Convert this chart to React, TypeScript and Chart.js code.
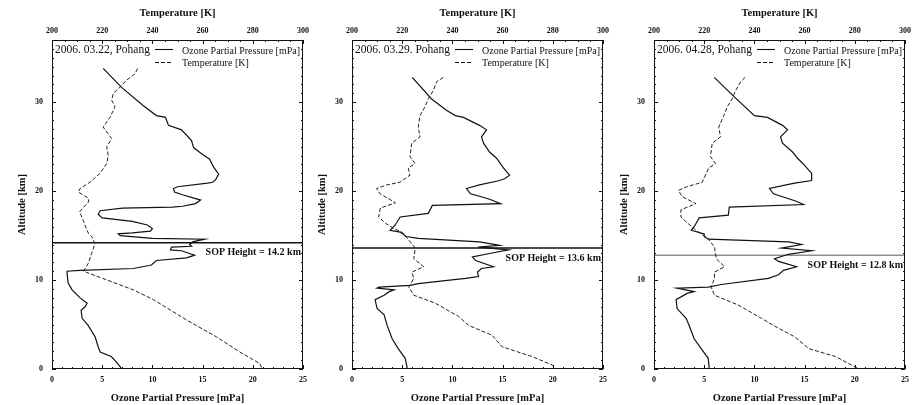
import React, { useEffect, useRef } from 'react';
import { Chart, registerables } from 'chart.js';

Chart.register(...registerables);

const FONT = '"Liberation Serif", "Times New Roman", Times, serif';

// Tick values
const ozoneTickValues = [0, 5, 10, 15, 20, 25];
const tempTickValues = [200, 220, 240, 260, 280, 300];
const altTickValues = [0, 10, 20, 30];

// [altitude km, ozone partial pressure mPa]
const ozone0322: [number, number][] = [
  [33.8, 5.1], [31.7, 6.9], [29.6, 9.1], [28.5, 10.4], [28.3, 11.3], [27.4, 11.6], [26.9, 12.9],
  [25.7, 13.9], [24.9, 14.1], [24.3, 14.8], [23.6, 15.7], [22.7, 16.1], [21.9, 16.6], [21.3, 16.3],
  [21.0, 16.0], [20.9, 15.5], [20.5, 12.5], [20.3, 12.1], [19.9, 12.2], [19.6, 13.0], [19.0, 14.8],
  [18.6, 14.3], [18.3, 13.0], [18.2, 12.0], [18.1, 7.0], [17.8, 4.8], [17.4, 4.6], [17.0, 5.0],
  [16.6, 8.0], [16.2, 9.5], [15.8, 10.0], [15.5, 9.8], [15.3, 8.0], [15.2, 6.6], [15.0, 6.8],
  [14.7, 10.0], [14.6, 15.2], [14.3, 14.0], [14.0, 13.7], [13.8, 13.9], [13.7, 11.9], [13.4, 11.8],
  [13.3, 12.9], [12.8, 14.2], [12.5, 13.4], [12.2, 10.4], [11.7, 9.9], [11.3, 8.1], [11.1, 2.8],
  [11.0, 1.5], [10.8, 1.5], [9.7, 1.6], [8.9, 2.0], [8.0, 2.8], [7.4, 3.5], [7.0, 3.3], [6.6, 2.9],
  [5.7, 3.0], [4.9, 3.6], [3.6, 4.3], [2.5, 4.6], [1.9, 4.8], [1.4, 5.9], [0.8, 6.4], [0.1, 6.9],
];
// [altitude km, temperature K]
const temp0322: [number, number][] = [
  [33.8, 234.1], [33.2, 233.1], [32.5, 229.8], [31.7, 227.1], [31.0, 224.4], [30.2, 223.8],
  [29.5, 225.1], [28.3, 223.1], [27.2, 220.4], [25.9, 223.8], [25.0, 221.8], [24.0, 222.4],
  [23.1, 221.8], [22.0, 219.1], [21.0, 215.1], [20.3, 211.2], [19.9, 210.5], [19.2, 214.5],
  [18.8, 214.6], [17.7, 211.0], [16.6, 212.6], [16.2, 213.1], [15.2, 214.6], [14.9, 215.8],
  [14.1, 217.1], [13.0, 215.8], [11.9, 214.5], [11.0, 212.5], [8.9, 232.4], [7.8, 240.4],
  [5.5, 253.7], [3.6, 265.6], [1.9, 274.9], [0.6, 282.9], [0.1, 283.5],
];

const ozone0329: [number, number][] = [
  [32.8, 6.0], [30.4, 7.9], [29.1, 9.4], [28.5, 10.3], [28.3, 11.1], [27.4, 12.7], [26.9, 13.4],
  [26.1, 12.9], [25.4, 13.1], [24.4, 13.7], [23.7, 14.4], [22.6, 15.1], [21.8, 15.7], [21.4, 15.2],
  [21.2, 14.7], [20.7, 12.7], [20.3, 11.4], [19.7, 11.8], [19.2, 13.4], [19.0, 13.9], [18.6, 14.8],
  [18.4, 8.0], [17.5, 7.6], [17.1, 4.8], [16.2, 4.3], [15.6, 3.8], [15.4, 4.8], [14.9, 5.4],
  [14.7, 6.6], [14.3, 12.7], [13.9, 14.7], [13.7, 12.6], [13.4, 15.6], [13.1, 14.2], [12.6, 12.0],
  [12.2, 12.3], [11.5, 14.1], [11.3, 12.9], [10.9, 12.5], [10.4, 12.6], [10.2, 11.3], [9.6, 6.6],
  [9.4, 5.8], [9.2, 2.7], [9.1, 2.5], [8.9, 4.2], [8.7, 3.7], [8.3, 3.2], [7.8, 2.3], [6.8, 2.5],
  [6.1, 3.2], [4.9, 3.5], [3.4, 4.0], [2.3, 4.6], [1.2, 5.3], [0.1, 5.5],
];
const temp0329: [number, number][] = [
  [32.8, 236.4], [32.3, 233.7], [31.3, 232.4], [30.4, 230.4], [29.5, 229.1], [28.5, 227.1],
  [27.2, 226.4], [26.1, 227.1], [25.4, 223.8], [23.9, 223.1], [23.1, 225.1], [22.6, 222.4],
  [21.8, 223.1], [21.0, 219.1], [20.7, 213.8], [20.3, 209.8], [19.7, 211.2], [18.7, 217.3],
  [18.1, 211.3], [17.1, 210.6], [16.4, 213.3], [15.8, 216.6], [15.4, 219.9], [14.5, 222.6],
  [13.6, 225.2], [12.4, 224.6], [11.5, 228.6], [10.9, 223.9], [10.2, 224.6], [9.2, 222.6],
  [8.3, 224.6], [7.4, 233.2], [5.9, 242.5], [4.9, 246.5], [3.8, 255.8], [2.5, 259.8],
  [1.4, 271.7], [0.3, 281.0],
];

const ozone0428: [number, number][] = [
  [32.8, 6.0], [30.6, 8.0], [28.5, 10.0], [28.3, 11.3], [27.4, 12.8], [26.9, 13.3], [26.1, 12.6],
  [25.4, 12.8], [24.4, 13.8], [23.7, 14.3], [22.9, 15.0], [22.0, 15.7], [21.2, 15.7], [20.9, 14.0],
  [20.3, 11.5], [19.7, 11.9], [18.9, 14.1], [18.5, 14.9], [18.2, 7.5], [17.3, 7.4], [17.0, 4.5],
  [16.0, 4.0], [15.6, 3.7], [15.2, 5.0], [14.9, 5.0], [14.6, 5.4], [14.3, 13.4], [14.0, 14.7],
  [13.6, 12.7], [13.3, 15.7], [12.9, 13.4], [12.4, 12.0], [12.1, 12.4], [11.5, 14.2], [11.1, 12.9],
  [10.6, 12.4], [10.2, 11.4], [9.5, 6.7], [9.2, 5.4], [9.1, 2.3], [8.7, 4.0], [8.5, 3.3],
  [7.8, 2.2], [6.8, 2.3], [5.7, 3.2], [4.9, 3.5], [3.4, 4.0], [2.3, 4.7], [1.2, 5.4], [0.1, 5.5],
];
const temp0428: [number, number][] = [
  [32.8, 236.3], [32.3, 234.5], [31.3, 232.5], [30.4, 231.2], [29.5, 229.2], [28.5, 227.8],
  [27.2, 225.8], [26.1, 226.5], [25.4, 223.2], [23.9, 222.5], [23.1, 224.5], [22.6, 221.8],
  [21.0, 219.2], [20.5, 213.1], [20.1, 209.8], [19.4, 211.1], [18.6, 216.7], [17.9, 210.7],
  [17.1, 210.7], [16.4, 213.4], [15.6, 216.7], [14.7, 221.4], [13.7, 224.1], [12.4, 224.8],
  [11.5, 228.1], [10.9, 224.1], [10.2, 224.1], [9.2, 222.8], [8.3, 224.1], [7.2, 233.5],
  [5.7, 242.8], [4.8, 248.2], [3.6, 256.2], [2.3, 261.6], [1.4, 272.3], [0.1, 281.0],
];

const sopHeights = [14.2, 13.6, 12.8];
const dates = ['2006. 03.22, Pohang', '2006. 03.29. Pohang', '2006. 04.28, Pohang'];

const panels = [
  { date: dates[0], ozone: ozone0322, temp: temp0322, sop: sopHeights[0], left: 0, padRight: 9, sopWidth: 1.4, sopColor: '#111' },
  { date: dates[1], ozone: ozone0329, temp: temp0329, sop: sopHeights[1], left: 300, padRight: 9, sopWidth: 1.4, sopColor: '#111' },
  { date: dates[2], ozone: ozone0428, temp: temp0428, sop: sopHeights[2], left: 602, padRight: 9, sopWidth: 0.9, sopColor: '#444' },
];

const W = 312;
const H = 405;

function Panel({ p }: { p: typeof panels[number] }) {
  const ref = useRef<HTMLCanvasElement>(null);
  useEffect(() => {
    const canvas = ref.current!;
    const decor = {
      id: 'decor',
      afterDraw(chart: any) {
        const { ctx, chartArea: a, scales } = chart;
        const sx = scales.x, sy = scales.y, st = scales.xT;
        ctx.save();
        ctx.strokeStyle = '#111';
        ctx.lineWidth = 1;
        ctx.setLineDash([]);
        ctx.strokeRect(a.left + 0.5, a.top + 0.5, a.right - a.left - 1, a.bottom - a.top - 1);
        ctx.beginPath();
        for (let v = 0; v <= 25; v++) {
          const x = Math.round(sx.getPixelForValue(v)) + 0.5;
          const l = v % 5 === 0 ? 4 : 2;
          ctx.moveTo(x, a.bottom);
          ctx.lineTo(x, a.bottom - l);
        }
        for (let v = 200; v <= 300; v += 5) {
          const x = Math.round(st.getPixelForValue(v)) + 0.5;
          const l = v % 20 === 0 ? 4 : 2;
          ctx.moveTo(x, a.top);
          ctx.lineTo(x, a.top + l);
        }
        for (let v = 0; v <= 37; v++) {
          const y = Math.round(sy.getPixelForValue(v)) + 0.5;
          const l = v % 10 === 0 ? 4 : 2;
          ctx.moveTo(a.left, y);
          ctx.lineTo(a.left + l, y);
          ctx.moveTo(a.right, y);
          ctx.lineTo(a.right - l, y);
        }
        ctx.stroke();

        // legend
        ctx.fillStyle = '#111';
        ctx.textBaseline = 'middle';
        ctx.textAlign = 'left';
        ctx.font = `11.5px ${FONT}`;
        ctx.fillText(p.date, a.left + 3, a.top + 10);
        ctx.lineWidth = 1.1;
        ctx.beginPath();
        ctx.moveTo(a.left + 103, a.top + 9.5);
        ctx.lineTo(a.left + 121, a.top + 9.5);
        ctx.stroke();
        ctx.setLineDash([4, 2]);
        ctx.beginPath();
        ctx.moveTo(a.left + 103, a.top + 22.5);
        ctx.lineTo(a.left + 121, a.top + 22.5);
        ctx.stroke();
        ctx.setLineDash([]);
        ctx.font = `10px ${FONT}`;
        ctx.fillText('Ozone Partial Pressure [mPa]', a.left + 130, a.top + 11);
        ctx.fillText('Temperature [K]', a.left + 130, a.top + 23);

        // SOP label
        const ys = sy.getPixelForValue(p.sop);
        ctx.font = `bold 10px ${FONT}`;
        ctx.textAlign = 'right';
        ctx.fillText(`SOP Height = ${p.sop} km`, a.right - 2, ys + 10);
        ctx.restore();
      },
    };

    const tickFont = { family: FONT, size: 8, weight: 'bold' as const };
    const titleFont = { family: FONT, size: 10.5, weight: 'bold' as const, lineHeight: 1.2 };

    const chart = new Chart(canvas, {
      type: 'line',
      data: {
        datasets: [
          {
            label: 'Ozone Partial Pressure [mPa]',
            data: p.ozone.map(([alt, v]) => ({ x: v, y: alt })),
            xAxisID: 'x',
            yAxisID: 'y',
            borderColor: '#111',
            borderWidth: 1.2,
            pointRadius: 0,
            tension: 0,
          },
          {
            label: 'Temperature [K]',
            data: p.temp.map(([alt, t]) => ({ x: t, y: alt })),
            xAxisID: 'xT',
            yAxisID: 'y',
            borderColor: '#222',
            borderWidth: 1,
            borderDash: [4, 2],
            pointRadius: 0,
            tension: 0,
          },
          {
            label: 'SOP',
            data: [{ x: 0, y: p.sop }, { x: 25, y: p.sop }],
            xAxisID: 'x',
            yAxisID: 'y',
            borderColor: p.sopColor,
            borderWidth: p.sopWidth,
            pointRadius: 0,
          },
        ],
      },
      options: {
        animation: false,
        responsive: false,
        devicePixelRatio: 1,
        parsing: false as any,
        normalized: true,
        layout: { padding: { left: 0, right: p.padRight, top: 0, bottom: 0 } },
        plugins: { legend: { display: false }, tooltip: { enabled: false } },
        scales: {
          x: {
            type: 'linear',
            position: 'bottom',
            min: 0,
            max: 25,
            afterBuildTicks: (s: any) => { s.ticks = ozoneTickValues.map((v) => ({ value: v })); },
            ticks: { font: tickFont, color: '#111', padding: 6, maxRotation: 0, autoSkip: false },
            grid: { display: false, drawTicks: false, tickLength: 0 },
            border: { display: false },
            title: { display: true, text: 'Ozone Partial Pressure [mPa]', font: titleFont, color: '#111', padding: { top: 0, bottom: 0 } },
            afterFit: (s: any) => { s.height = 36; s.paddingLeft = 0; s.paddingRight = 0; },
          },
          xT: {
            type: 'linear',
            position: 'top',
            min: 200,
            max: 300,
            afterBuildTicks: (s: any) => { s.ticks = tempTickValues.map((v) => ({ value: v })); },
            ticks: { font: tickFont, color: '#111', padding: 4, maxRotation: 0, autoSkip: false },
            grid: { display: false, drawTicks: false, tickLength: 0 },
            border: { display: false },
            title: { display: true, text: 'Temperature [K]', font: titleFont, color: '#111', padding: { top: 7, bottom: 0 } },
            afterFit: (s: any) => { s.height = 40; s.paddingLeft = 0; s.paddingRight = 0; },
          },
          y: {
            type: 'linear',
            position: 'left',
            min: 0,
            max: 37,
            afterBuildTicks: (s: any) => { s.ticks = altTickValues.map((v) => ({ value: v })); },
            ticks: { font: tickFont, color: '#111', padding: 9, autoSkip: false },
            grid: { display: false, drawTicks: false, tickLength: 0 },
            border: { display: false },
            title: { display: true, text: 'Altitude [km]', font: titleFont, color: '#111', padding: { top: 16, bottom: 0 } },
            afterFit: (s: any) => { s.width = 52; s.paddingTop = 0; s.paddingBottom = 0; },
          },
        },
      },
      plugins: [decor],
    });
    return () => chart.destroy();
  }, []);
  return (
    <canvas
      ref={ref}
      width={W}
      height={H}
      style={{ position: 'absolute', left: p.left, top: 0, width: W, height: H }}
    />
  );
}

export default function App() {
  return (
    <div style={{ position: 'absolute', left: 0, top: 0, width: 920, height: 405, background: '#fff', overflow: 'hidden' }}>
      {panels.map((p, i) => (
        <Panel key={i} p={p} />
      ))}
    </div>
  );
}
